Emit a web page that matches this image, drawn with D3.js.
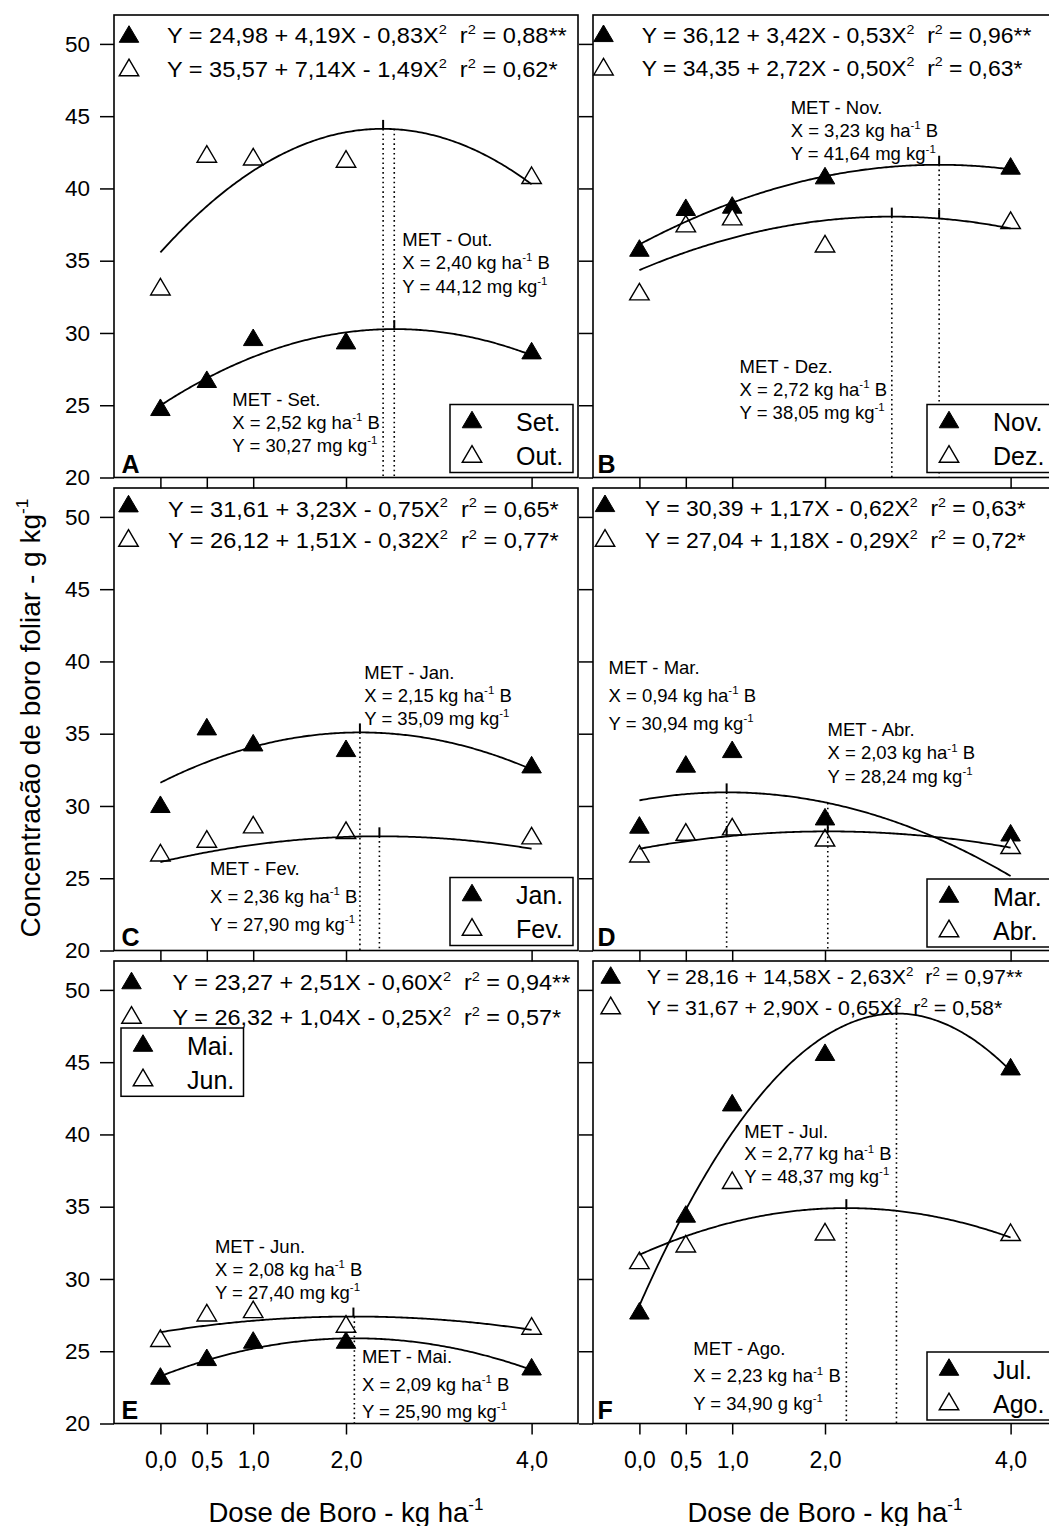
<!DOCTYPE html>
<html>
<head>
<meta charset="utf-8">
<script src="https://cdn.jsdelivr.net/npm/d3@7"></script>
<style>
  body { margin: 0; background: #fff; }
  svg text { font-family: "Liberation Sans", Arial, sans-serif; fill: #000; white-space: pre; }
</style>
</head>
<body>
<svg id="chart" width="1049" height="1526"></svg>
<script>
// ---------- data ----------
const doses = [0, 0.5, 1, 2, 4];
const xTickValues = [0, 0.5, 1, 2, 4];
const xTickLabels = ["0,0", "0,5", "1,0", "2,0", "4,0"];
const yTickValues = [20, 25, 30, 35, 40, 45, 50];

// leaf boron means (g kg-1) per month, one value per dose
const setVals = [24.86, 26.80, 29.70, 29.47, 28.78];
const outVals = [33.20, 42.39, 42.20, 42.04, 40.91];
const novVals = [35.88, 38.70, 38.86, 40.89, 41.56];
const dezVals = [32.86, 37.57, 38.05, 36.18, 37.80];
const janVals = [30.12, 35.49, 34.38, 33.99, 32.86];
const fevVals = [26.77, 27.72, 28.71, 28.32, 27.95];
const marVals = [28.69, 32.91, 33.92, 29.26, 28.15];
const abrVals = [26.70, 28.20, 28.57, 27.80, 27.28];
const maiVals = [23.29, 24.58, 25.78, 25.78, 23.93];
const junVals = [25.90, 27.67, 27.90, 26.89, 26.75];
const julVals = [27.80, 34.50, 42.20, 45.69, 44.69];
const agoVals = [31.29, 32.44, 36.83, 33.27, 33.23];

// quadratic fits Y = a + bX - cX^2  -> [a, b, c]
const setFit = [24.98, 4.19, 0.83];
const outFit = [35.57, 7.14, 1.49];
const novFit = [36.12, 3.42, 0.53];
const dezFit = [34.35, 2.72, 0.50];
const janFit = [31.61, 3.23, 0.75];
const fevFit = [26.12, 1.51, 0.32];
const marFit = [30.39, 1.17, 0.62];
const abrFit = [27.04, 1.18, 0.29];
const maiFit = [23.27, 2.51, 0.60];
const junFit = [26.32, 1.04, 0.25];
const julFit = [28.16, 14.58, 2.63];
const agoFit = [31.67, 2.90, 0.65];

// coefficients of determination as printed
const setR2 = "0,88**", outR2 = "0,62*", novR2 = "0,96**", dezR2 = "0,63*";
const janR2 = "0,65*", fevR2 = "0,77*", marR2 = "0,63*", abrR2 = "0,72*";
const maiR2 = "0,94**", junR2 = "0,57*", julR2 = "0,97**", agoR2 = "0,58*";

// maximum efficiency dose (X, kg ha-1 B) and concentration (Y)
const setMet = [2.52, 30.27], outMet = [2.40, 44.12];
const novMet = [3.23, 41.64], dezMet = [2.72, 38.05];
const janMet = [2.15, 35.09], fevMet = [2.36, 27.90];
const marMet = [0.94, 30.94], abrMet = [2.03, 28.24];
const maiMet = [2.09, 25.90], junMet = [2.08, 27.40];
const julMet = [2.77, 48.37], agoMet = [2.23, 34.90];

// dotted reference lines [x, top value] and small vertex marks [x, value]
const guidesA = [[2.40, 44.12], [2.52, 44.12]], marksA = [[2.40, 44.12], [2.52, 30.27]];
const guidesB = [[2.72, 38.05], [3.23, 41.64]], marksB = [[2.72, 38.05], [3.23, 41.64], [3.23, 37.92]];
const guidesC = [[2.15, 35.09], [2.36, 27.90]], marksC = [[2.15, 35.09], [2.36, 27.90]];
const guidesD = [[0.94, 30.94], [2.03, 30.21]], marksD = [[0.94, 30.94], [0.94, 27.89], [2.03, 28.24]];
const guidesE = [[2.09, 27.40]], marksE = [[2.08, 27.40]];
const guidesF = [[2.77, 48.37], [2.23, 34.90]], marksF = [[2.77, 48.37], [2.23, 34.90]];

const panels = [
  { id: "A", col: 0, row: 0, guides: guidesA, marks: marksA,
    series: [
      { name: "Set.", filled: true,  vals: setVals, fit: setFit, r2: setR2, met: setMet, month: "Set.", unit: "mg" },
      { name: "Out.", filled: false, vals: outVals, fit: outFit, r2: outR2, met: outMet, month: "Out.", unit: "mg" } ] },
  { id: "B", col: 1, row: 0, guides: guidesB, marks: marksB,
    series: [
      { name: "Nov.", filled: true,  vals: novVals, fit: novFit, r2: novR2, met: novMet, month: "Nov.", unit: "mg" },
      { name: "Dez.", filled: false, vals: dezVals, fit: dezFit, r2: dezR2, met: dezMet, month: "Dez.", unit: "mg" } ] },
  { id: "C", col: 0, row: 1, guides: guidesC, marks: marksC,
    series: [
      { name: "Jan.", filled: true,  vals: janVals, fit: janFit, r2: janR2, met: janMet, month: "Jan.", unit: "mg" },
      { name: "Fev.", filled: false, vals: fevVals, fit: fevFit, r2: fevR2, met: fevMet, month: "Fev.", unit: "mg" } ] },
  { id: "D", col: 1, row: 1, guides: guidesD, marks: marksD,
    series: [
      { name: "Mar.", filled: true,  vals: marVals, fit: marFit, r2: marR2, met: marMet, month: "Mar.", unit: "mg" },
      { name: "Abr.", filled: false, vals: abrVals, fit: abrFit, r2: abrR2, met: abrMet, month: "Abr.", unit: "mg" } ] },
  { id: "E", col: 0, row: 2, guides: guidesE, marks: marksE,
    series: [
      { name: "Mai.", filled: true,  vals: maiVals, fit: maiFit, r2: maiR2, met: maiMet, month: "Mai.", unit: "mg" },
      { name: "Jun.", filled: false, vals: junVals, fit: junFit, r2: junR2, met: junMet, month: "Jun.", unit: "mg" } ] },
  { id: "F", col: 1, row: 2, guides: guidesF, marks: marksF,
    series: [
      { name: "Jul.", filled: true,  vals: julVals, fit: julFit, r2: julR2, met: julMet, month: "Jul.", unit: "mg" },
      { name: "Ago.", filled: false, vals: agoVals, fit: agoFit, r2: agoR2, met: agoMet, month: "Ago.", unit: "g" } ] }
];

// ---------- layout ----------
const colLeft = [114, 593];
const rowTop = [15, 488, 961];
const panelW = 464, panelH = 462.5;
const xDomain = [-0.5, 4.5], yDomain = [20, 52];

// equation block: marker x, text x, baselines, marker centres (offsets from panel corner), width of line 1, font size
const eqLayout = {
  A: { mx: 15,   tx: 53,   base: [28.4, 61.7], my: [19, 52.5], w: 400, fs: 21.5 },
  B: { mx: 10.5, tx: 48.7, base: [28, 60.5],   my: [18.3, 51.7], w: 390, fs: 21.5 },
  C: { mx: 14.5, tx: 54,   base: [28.5, 60],   my: [15.6, 50], w: 391, fs: 21.5 },
  D: { mx: 12,   tx: 52,   base: [28, 60],     my: [15.3, 50], w: 381, fs: 21.5 },
  E: { mx: 17.5, tx: 58.6, base: [29, 64],     my: [19.5, 54], w: 398, fs: 21.5 },
  F: { mx: 17.7, tx: 53.7, base: [23, 54],     my: [14, 44.5], w: 376, fs: 20 }
};
// legend box: anchor relative to panel ("bottom" or "top"), offsets and size
const legendLayout = {
  A: { dx: 336, dy: -73, from: "bottom", w: 123, h: 68 },
  B: { dx: 334, dy: -73, from: "bottom", w: 130, h: 68 },
  C: { dx: 336, dy: -73, from: "bottom", w: 123, h: 68 },
  D: { dx: 334, dy: -71.5, from: "bottom", w: 130, h: 68 },
  E: { dx: 7,   dy: 67,  from: "top",    w: 122.5, h: 68.3 },
  F: { dx: 334, dy: -71.5, from: "bottom", w: 130, h: 68 }
};
// annotation anchors in data units: [x, y of first baseline, line spacing px] for [filled, open]
const metLayout = {
  A: [[0.775, 24.95, 23],  [2.607, 36.02, 23.3]],
  B: [[1.630, 45.16, 23.3],[1.079, 27.25, 23]],
  C: [[2.197, 38.77, 23],  [0.534, 25.22, 28]],
  D: [[-0.333, 39.13, 28], [2.027, 34.84, 23.3]],
  E: [[2.172, 24.17, 27.5],[0.588, 31.82, 23]],
  F: [[1.129, 39.74, 22.2],[0.580, 24.74, 27.5]]
};

const svg = d3.select("#chart");
const fmt = v => d3.format(".2f")(v).replace(".", ",");
const quad = (f, x) => f[0] + f[1] * x - f[2] * x * x;

// triangle marker centred on its bounding box
const triangleType = {
  draw(ctx, size) {
    const hw = Math.sqrt(size) / 2, hh = hw * 0.85;
    ctx.moveTo(0, -hh); ctx.lineTo(hw, hh); ctx.lineTo(-hw, hh); ctx.closePath();
  }
};
const tri = d3.symbol().type(triangleType).size(19.5 * 19.5);

function styleMarker(sel, filled) {
  sel.attr("d", tri)
    .attr("fill", filled ? "#000" : "#fff")
    .attr("stroke", "#000")
    .attr("stroke-width", filled ? 1 : 1.4)
    .attr("stroke-linejoin", "miter");
}

// append text made of plain and superscript runs
function rich(textSel, runs, fs) {
  let shift = 0;
  runs.forEach(([s, sup]) => {
    const t = textSel.append("tspan").text(s);
    const target = sup ? -fs * 0.42 : 0;
    if (target !== shift) { t.attr("dy", target - shift); shift = target; }
    if (sup) t.attr("font-size", fs * 0.62);
  });
  return textSel;
}

panels.forEach(p => {
  const left = colLeft[p.col], top = rowTop[p.row];
  const bottom = top + panelH, right = left + panelW;
  const x = d3.scaleLinear().domain(xDomain).range([left, right]);
  const y = d3.scaleLinear().domain(yDomain).range([bottom, top]);
  const g = svg.append("g").attr("class", "panel-" + p.id);

  // y axis ticks (labels only on the left column)
  const yAxis = d3.axisLeft(y).tickValues(yTickValues).tickSize(14).tickPadding(10)
    .tickFormat(p.col === 0 ? d3.format("d") : () => "");
  const ya = g.append("g").attr("transform", `translate(${left},0)`).call(yAxis);
  ya.select(".domain").remove();
  ya.selectAll("line").attr("stroke", "#000").attr("stroke-width", 1.5);
  ya.selectAll("text").attr("font-size", 22.5).attr("fill", "#000")
    .attr("font-family", '"Liberation Sans", Arial, sans-serif');

  // x axis ticks (labels only under the bottom row)
  const xAxis = d3.axisBottom(x).tickValues(xTickValues).tickSize(11).tickPadding(17.5)
    .tickFormat(p.row === 2 ? (d, i) => xTickLabels[i] : () => "");
  const xa = g.append("g").attr("transform", `translate(0,${bottom})`).call(xAxis);
  xa.select(".domain").remove();
  xa.selectAll("line").attr("stroke", "#000").attr("stroke-width", 1.5);
  xa.selectAll("text").attr("font-size", 23).attr("fill", "#000")
    .attr("font-family", '"Liberation Sans", Arial, sans-serif');

  // frame
  g.append("rect").attr("x", left).attr("y", top).attr("width", panelW).attr("height", panelH)
    .attr("fill", "none").attr("stroke", "#000").attr("stroke-width", 1.6);

  // data markers (filled first, open on top)
  p.series.forEach(s => {
    g.append("g").selectAll("path").data(s.vals).join("path")
      .attr("transform", (v, i) => `translate(${x(doses[i])},${y(v)})`)
      .call(sel => styleMarker(sel, s.filled));
  });

  // fitted curves
  const xs = d3.range(0, 4.0001, 0.02);
  const line = d3.line().x(d => x(d[0])).y(d => y(d[1]));
  p.series.forEach(s => {
    g.append("path").attr("d", line(xs.map(v => [v, quad(s.fit, v)])))
      .attr("fill", "none").attr("stroke", "#000").attr("stroke-width", 1.8);
  });

  // dotted reference lines and vertex marks
  p.guides.forEach(([gx, gy]) => {
    g.append("line").attr("x1", x(gx)).attr("x2", x(gx)).attr("y1", y(gy)).attr("y2", y(20))
      .attr("stroke", "#000").attr("stroke-width", 1.6).attr("stroke-dasharray", "1.6,3.2");
  });
  p.marks.forEach(([mx, my]) => {
    g.append("line").attr("x1", x(mx)).attr("x2", x(mx)).attr("y1", y(my)).attr("y2", y(my) - 9)
      .attr("stroke", "#000").attr("stroke-width", 2);
  });

  // MET annotations
  const afs = 18.5;
  p.series.forEach((s, k) => {
    const [ax, ay, sp] = metLayout[p.id][k];
    const x0 = x(ax), y0 = y(ay);
    const lines = [
      [["MET - " + s.month]],
      [["X = " + fmt(s.met[0]) + " kg ha"], ["-1", true], [" B"]],
      [["Y = " + fmt(s.met[1]) + " " + s.unit + " kg"], ["-1", true]]
    ];
    lines.forEach((runs, li) => {
      rich(g.append("text").attr("x", x0).attr("y", y0 + li * sp).attr("font-size", afs), runs, afs);
    });
  });

  // regression equations
  const el = eqLayout[p.id];
  const eqGroups = [];
  p.series.forEach((s, k) => {
    g.append("path").attr("transform", `translate(${left + el.mx},${top + el.my[k]})`)
      .call(sel => styleMarker(sel, s.filled));
    const eg = g.append("g").attr("transform", `translate(${left + el.tx},${top + el.base[k]})`);
    const t = eg.append("text").attr("x", 0).attr("y", 0).attr("font-size", el.fs);
    rich(t, [
      ["Y = " + fmt(s.fit[0]) + " + " + fmt(s.fit[1]) + "X - " + fmt(s.fit[2]) + "X"], ["2", true],
      ["  r"], ["2", true], [" = " + s.r2]
    ], el.fs);
    eqGroups.push([eg, t]);
  });
  const natural = eqGroups[0][1].node().getComputedTextLength();
  const sx = el.w / natural;
  eqGroups.forEach(([eg], k) => {
    eg.attr("transform", `translate(${left + el.tx},${top + el.base[k]}) scale(${sx},1)`);
  });

  // legend
  const ll = legendLayout[p.id];
  const lx = left + ll.dx, ly = (ll.from === "bottom" ? bottom : top) + ll.dy;
  g.append("rect").attr("x", lx).attr("y", ly).attr("width", ll.w).attr("height", ll.h)
    .attr("fill", "#fff").attr("stroke", "#000").attr("stroke-width", 1.5);
  p.series.forEach((s, k) => {
    g.append("path").attr("transform", `translate(${lx + 22},${ly + 15 + k * 34.5})`)
      .call(sel => styleMarker(sel, s.filled));
    g.append("text").attr("x", lx + 66).attr("y", ly + 26.5 + k * 34).attr("font-size", 25).text(s.name);
  });

  // panel letter
  g.append("text").attr("x", left + (p.col === 0 ? 7.5 : 4.5)).attr("y", bottom - 4.5)
    .attr("font-size", 25).attr("font-weight", "bold").text(p.id);
});

// axis titles
const xBottomLeft = d3.scaleLinear().domain(xDomain).range([colLeft[0], colLeft[0] + panelW]);
const xBottomRight = d3.scaleLinear().domain(xDomain).range([colLeft[1], colLeft[1] + panelW]);
[xBottomLeft, xBottomRight].forEach(sc => {
  rich(svg.append("text").attr("x", sc(2)).attr("y", 1521.5).attr("font-size", 27.5)
    .attr("text-anchor", "middle"), [["Dose de Boro - kg ha"], ["-1", true]], 27.5);
});
rich(svg.append("text").attr("transform", "translate(40,718) rotate(-90)")
  .attr("font-size", 28).attr("text-anchor", "middle"),
  [["Concentracão de boro foliar - g kg"], ["-1", true]], 28);
</script>
</body>
</html>
